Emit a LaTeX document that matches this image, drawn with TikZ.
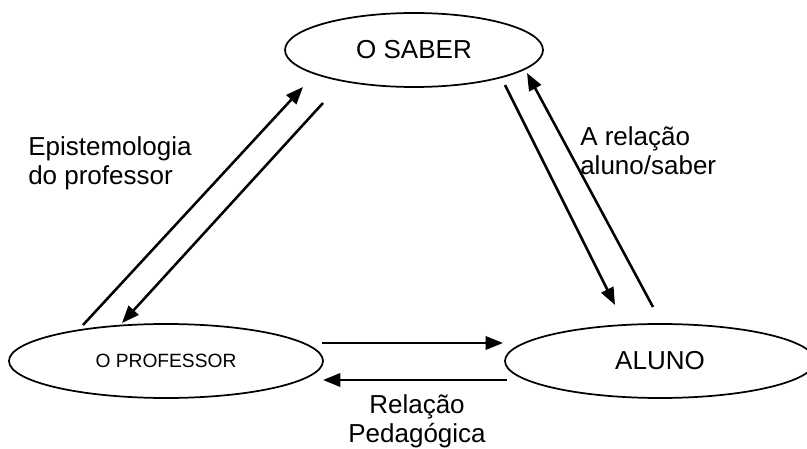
\documentclass[tikz,border=0pt]{standalone}
\usepackage{fontspec}
\setmainfont{Liberation Sans}
\usetikzlibrary{shapes.geometric,arrows.meta}
\begin{document}
\begin{tikzpicture}[x=0.75pt,y=-0.75pt,
    polo/.style={draw=black,line width=1.3pt,ellipse,inner sep=0pt,minimum height=55.5pt,
      font=\fontsize{19.5}{21.75}\selectfont},
    seta/.style={line width=1.9pt,-{Triangle[length=13pt,width=10pt]}},
    rotulo/.style={inner sep=0pt,font=\fontsize{19.5}{21.75}\selectfont}]
            \useasboundingbox (0,0) rectangle (807,449);
            \clip (0,0) rectangle (807,449);
            % os tres polos
            \node [polo,minimum width=193.5pt] (saber) at (414,50) {O SABER};
            \node [polo,minimum width=235.5pt,font=\fontsize{14.4}{16}\selectfont] (prof) at (166,361) {O PROFESSOR};
            \node [polo,minimum width=232.5pt] (aluno) at (660,361) {ALUNO};
            % pontas das setas
            \coordinate (ps1) at (83,325);  \coordinate (sp1) at (303,87);
            \coordinate (sp2) at (323,103); \coordinate (ps2) at (122,323);
            \coordinate (sa1) at (505,85);  \coordinate (as1) at (615,305);
            \coordinate (as2) at (653,307); \coordinate (sa2) at (527,73);
            \coordinate (pa1) at (322,343); \coordinate (ap1) at (503,343);
            \coordinate (ap2) at (507,380); \coordinate (pa2) at (323,380);
            \draw [seta] (ps1) -- (sp1);
            \draw [seta] (sp2) -- (ps2);
            \draw [seta] (sa1) -- (as1);
            \draw [seta] (as2) -- (sa2);
            \draw [seta] (pa1) -- (ap1);
            \draw [seta] (ap2) -- (pa2);
            % rotulos
            \node [rotulo,anchor=base west,align=left] (epi) at (28,185) {Epistemologia\\do professor};
            \node [rotulo,anchor=base west,align=left] (rel) at (580,175) {A relação\\aluno/saber};
            \node [rotulo,anchor=base,align=center] (ped) at (417,442) {Relação\\Pedagógica};
        \end{tikzpicture}
\end{document}
